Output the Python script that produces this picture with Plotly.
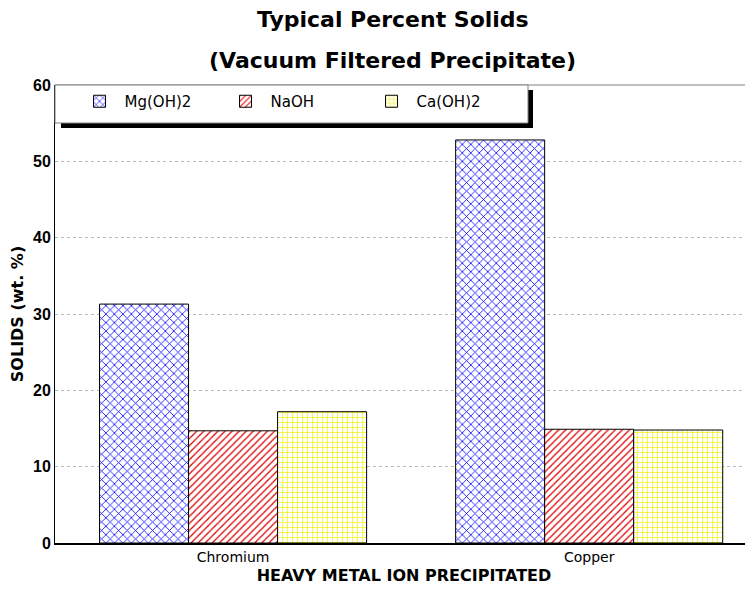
import plotly.graph_objects as go

categories = ["Chromium", "Copper"]
mg_oh2 = [31.3, 52.8]
naoh = [14.7, 14.9]
ca_oh2 = [17.2, 14.8]
series_names = ["Mg(OH)2", "NaOH", "Ca(OH)2"]
y_ticks = [0, 10, 20, 30, 40, 50, 60]

FONT = "Liberation Sans, Arial, sans-serif"
WIDE = "DejaVu Sans, Verdana, sans-serif"

fig = go.Figure()
styles = [
    dict(shape="x", fg="#0000ff", size=6, sol=0.25),
    dict(shape="/", fg="#e00000", size=5, sol=0.25),
    dict(shape="+", fg="#f0f000", size=5, sol=0.25),
]
for name, vals, st in zip(series_names, [mg_oh2, naoh, ca_oh2], styles):
    fig.add_trace(go.Bar(
        x=categories, y=vals, name=name,
        marker=dict(
            color="white",
            line=dict(color="black", width=1),
            pattern=dict(shape=st["shape"], fgcolor=st["fg"], bgcolor="white",
                         size=st["size"], solidity=st["sol"], fillmode="overlay",
                         fgopacity=1),
        ),
    ))

fig.update_layout(
    width=745, height=586,
    margin=dict(l=47, r=0, t=77, b=51),
    paper_bgcolor="white", plot_bgcolor="white",
    barmode="group", bargap=0.25, bargroupgap=0,
    showlegend=True,
    legend=dict(
        orientation="h", x=0.028, y=1, xanchor="left", yanchor="top",
        bgcolor="rgba(0,0,0,0)", borderwidth=0,
        font=dict(family=WIDE, size=15, color="black"),
        entrywidth=91, entrywidthmode="pixels",
        itemwidth=40,
        traceorder="normal",
    ),
    font=dict(family=FONT, color="black"),
    xaxis=dict(
        range=[-0.5, 1.46], showgrid=False, zeroline=False, automargin=False,
        showline=True, linecolor="black", linewidth=2,
        ticks="", tickfont=dict(family=WIDE, size=14),
        title=dict(text="HEAVY METAL ION PRECIPITATED",
                   font=dict(family=WIDE, size=16, weight="bold"), standoff=6),
    ),
    yaxis=dict(
        range=[0, 60], tickvals=y_ticks, showgrid=True, automargin=False,
        gridcolor="#b8b8b8", griddash="dot", gridwidth=1,
        zeroline=False, showline=True, linecolor="black", linewidth=1,
        ticks="", tickfont=dict(family=FONT, size=16, weight="bold"),
        title=dict(text="SOLIDS (wt. %)",
                   font=dict(family=WIDE, size=16, weight="bold"), standoff=8),
    ),
    annotations=[
        dict(text="<b>Typical Percent Solids</b>", xref="paper", yref="paper",
             x=0.484, y=1, yshift=66, xanchor="center", yanchor="middle",
             showarrow=False, font=dict(family=WIDE, size=22)),
        dict(text="<b>(Vacuum Filtered Precipitate)</b>", xref="paper", yref="paper",
             x=0.484, y=1, yshift=25, xanchor="center", yanchor="middle",
             showarrow=False, font=dict(family=WIDE, size=22)),
    ],
    shapes=[
        dict(type="line", xref="paper", yref="paper", x0=0, x1=1, y0=1, y1=1,
             line=dict(color="#808080", width=1), layer="above"),
        dict(type="rect", xref="paper", yref="paper",
             xsizemode="pixel", ysizemode="pixel", xanchor=0, yanchor=1,
             x0=6, x1=478, y0=-43, y1=-5,
             fillcolor="black", line=dict(width=0), layer="above"),
        dict(type="rect", xref="paper", yref="paper",
             xsizemode="pixel", ysizemode="pixel", xanchor=0, yanchor=1,
             x0=0, x1=473, y0=-38, y1=0,
             fillcolor="white", line=dict(color="#808080", width=1), layer="above"),
    ],
)

fig.write_html("out.html")
